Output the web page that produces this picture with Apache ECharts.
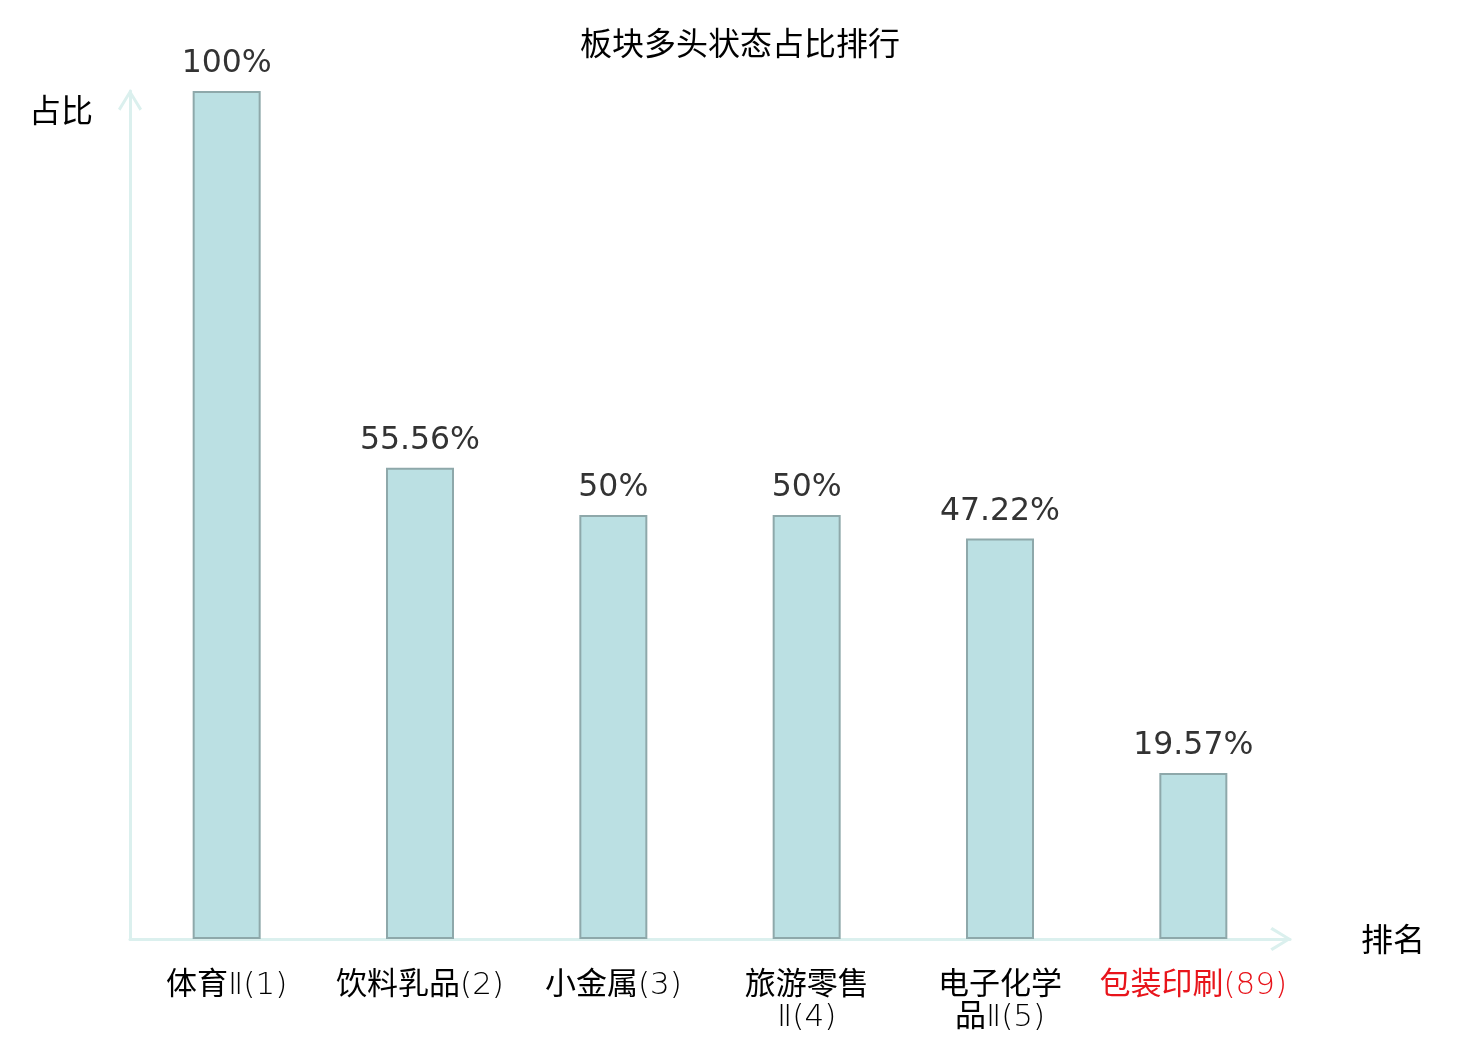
<!DOCTYPE html>
<html>
<head>
<meta charset="utf-8">
<script src="https://cdn.jsdelivr.net/npm/echarts@6/dist/echarts.min.js"></script>
<style>
html,body{margin:0;padding:0;background:#fff;}
#chart{width:1480px;height:1040px;}
</style>
</head>
<body>
<div id="chart"></div>
<script>
const titleText = '板块多头状态占比排行';
const categories = ['体育Ⅱ(1)', '饮料乳品(2)', '小金属(3)', '旅游零售\nⅡ(4)', '电子化学\n品Ⅱ(5)', '包装印刷(89)'];
const values = [100, 55.56, 50, 50, 47.22, 19.57];
const highlightIndex = 5;
const yAxisName = '占比';
const xAxisName = '排名';

const CJK = '"Noto Sans CJK SC", "Noto Sans", sans-serif';
const LABELFONT = '"DejaVu Sans Light", "Noto Sans CJK SC", sans-serif';
const axisColor = '#dbf0ee';
const chevron = 'path://M12 0 L24 19.5 L21.6 21.5 L12 5.5 L2.4 21.5 L0 19.5 Z';

const chart = echarts.init(document.getElementById('chart'));
chart.setOption({
  animation: false,
  backgroundColor: '#ffffff',
  title: {
    text: titleText,
    left: 'center',
    top: 22,
    textStyle: { fontFamily: CJK, fontSize: 32, fontWeight: 'normal', color: '#000' }
  },
  grid: { left: 130, right: 190, top: 91, bottom: 101, containLabel: false },
  xAxis: {
    type: 'category',
    data: categories.map((c, i) => i === highlightIndex ? { value: c, textStyle: { color: '#e8141b' } } : c),
    name: xAxisName,
    nameLocation: 'end',
    nameGap: 71,
    nameTextStyle: { fontFamily: CJK, fontSize: 32, color: '#000', verticalAlign: 'middle', padding: [4, 0, 0, 0] },
    axisLine: {
      show: true,
      lineStyle: { color: axisColor, width: 3 },
      symbol: ['none', chevron],
      symbolSize: [24, 22],
      symbolOffset: [0, -9]
    },
    axisTick: { show: false },
    axisLabel: {
      interval: 0,
      margin: 31,
      fontFamily: LABELFONT,
      fontSize: 31,
      lineHeight: 32,
      color: '#000'
    },
    splitLine: { show: false }
  },
  yAxis: {
    type: 'value',
    min: 0,
    max: 100,
    name: yAxisName,
    nameLocation: 'end',
    nameGap: -19,
    nameTextStyle: { fontFamily: CJK, fontSize: 32, color: '#000', align: 'right', verticalAlign: 'middle', padding: [0, 37, 0, 0] },
    axisLine: {
      show: true,
      lineStyle: { color: axisColor, width: 3 },
      symbol: ['none', chevron],
      symbolSize: [24, 22],
      symbolOffset: [0, -9]
    },
    axisTick: { show: false },
    axisLabel: { show: false },
    splitLine: { show: false }
  },
  series: [{
    type: 'bar',
    data: values,
    barWidth: 68,
    itemStyle: { color: '#bbe0e3', borderColor: '#8ea8aa', borderWidth: 2 },
    label: {
      show: true,
      position: 'top',
      distance: 11,
      formatter: '{c}%',
      fontFamily: '"DejaVu Sans", sans-serif',
      fontSize: 31.5,
      color: '#333'
    }
  }]
});
</script>
</body>
</html>
